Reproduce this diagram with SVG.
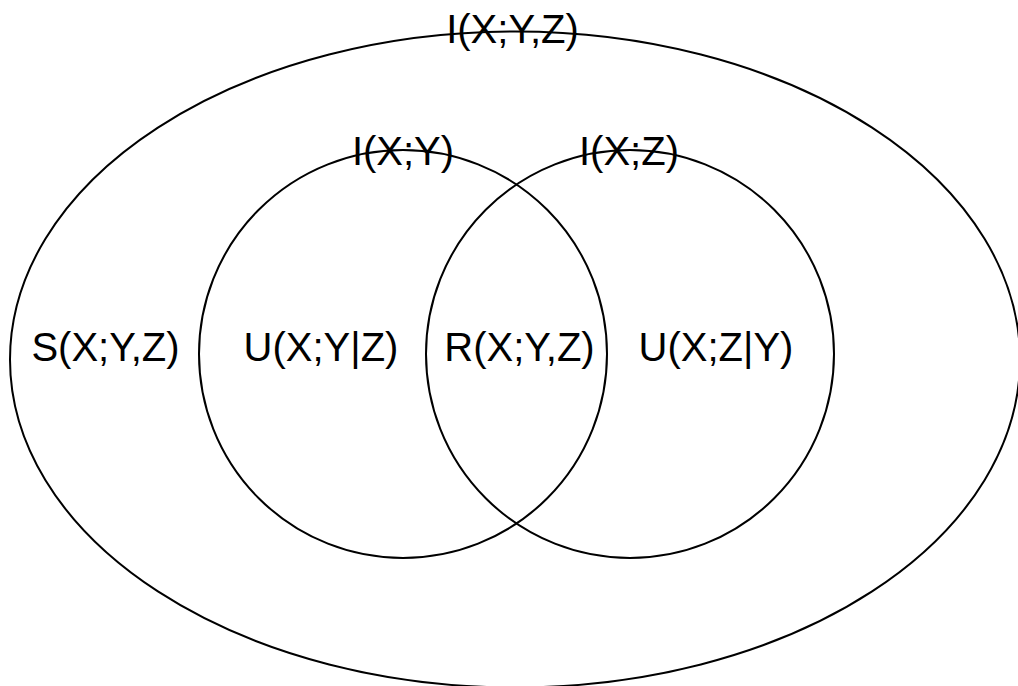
<svg xmlns="http://www.w3.org/2000/svg" width="1018" height="686" viewBox="0 0 1018 686">
<style>
.shape{fill:none;stroke:#000;stroke-width:2}
text{font-family:"Liberation Sans",Arial,sans-serif;font-size:40px;fill:#000;text-anchor:middle}
</style>
<rect width="1018" height="686" fill="#fff"/>
<g id="outer">
<ellipse class="shape" cx="515" cy="359.5" rx="505" ry="328"/>
<text x="512.5" y="43">I(X;Y,Z)</text>
</g>
<g id="left-circle">
<circle class="shape" cx="403" cy="354" r="204"/>
<text x="403" y="165">I(X;Y)</text>
</g>
<g id="right-circle">
<circle class="shape" cx="630" cy="354" r="204"/>
<text x="629" y="165">I(X;Z)</text>
</g>
<g id="labels">
<text x="105.5" y="361">S(X;Y,Z)</text>
<text x="321" y="361">U(X;Y|Z)</text>
<text x="519.5" y="361">R(X;Y,Z)</text>
<text x="716" y="361">U(X;Z|Y)</text>
</g>
<g id="connectors"/>
</svg>
